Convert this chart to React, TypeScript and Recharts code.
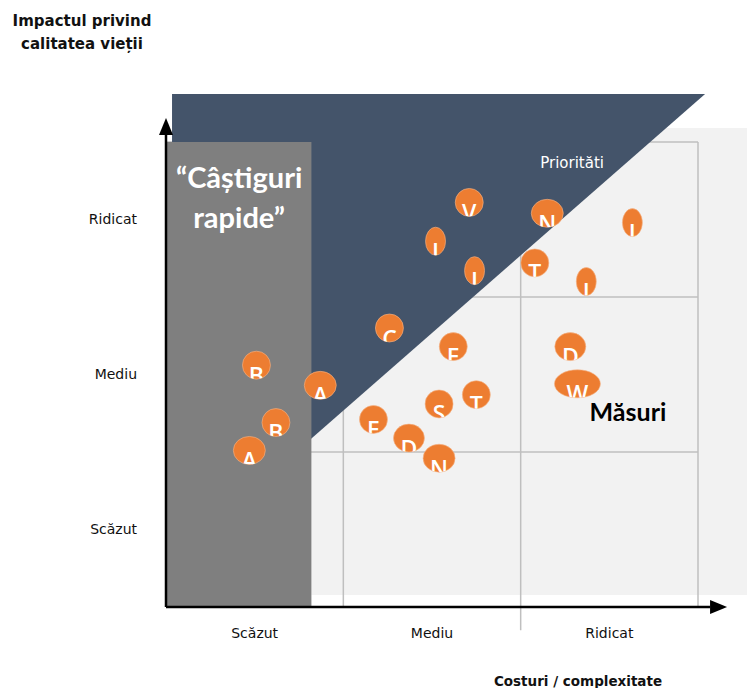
import React from 'react';
import { ScatterChart, Scatter, XAxis, YAxis, ReferenceArea, ReferenceLine, ReferenceDot } from 'recharts';

// axis categories (both axes use the same three levels)
const levelLabels = ['Scăzut', 'Mediu', 'Ridicat'];
const levelTicks = [0.5, 1.5, 2.5];

// measures: letter, cost / complexity (x) and impact on quality of life (y)
const measureLetters = ['V', 'N', 'I', 'I', 'I', 'T', 'I', 'C', 'E', 'B', 'A', 'T', 'S', 'B', 'E', 'D', 'A', 'N', 'D', 'W'];
const costValues = [1.71, 2.15, 1.52, 2.63, 1.74, 2.08, 2.37, 1.26, 1.62, 0.51, 0.87, 1.75, 1.54, 0.62, 1.17, 1.37, 0.47, 1.54, 2.28, 2.32];
const impactValues = [2.61, 2.54, 2.36, 2.48, 2.17, 2.22, 2.1, 1.8, 1.68, 1.56, 1.43, 1.37, 1.31, 1.19, 1.21, 1.09, 1.01, 0.96, 1.68, 1.44];

// zones (in axis units)
const gridCols = [1, 2, 3];
const gridColBottom = [0, -0.15, 0];
const gridRows = [1, 2, 3];

const data = measureLetters.map((letter, i) => ({
  id: i,
  letter,
  cost: costValues[i],
  impact: impactValues[i],
}));

const NAVY = '#44546A';
const ORANGE = '#ED7D31';
const GRID = '#BFBFBF';

const bubbleWidth: Record<string, number> = { I: 10, W: 23, N: 16, A: 16, D: 15.5 };

const Bubble = (props: any) => {
  const { cx, cy, payload } = props;
  const rx = bubbleWidth[payload.letter] ?? 14;
  const id = `bclip-${payload.id}`;
  return (
    <g>
      <defs>
        <clipPath id={id}>
          <ellipse cx={cx} cy={cy} rx={rx} ry={14} />
        </clipPath>
      </defs>
      <ellipse cx={cx} cy={cy} rx={rx} ry={14} fill={ORANGE} stroke="#f5b58a" strokeWidth={0.6} />
      <text x={cx} y={cy + 18.5} textAnchor="middle" fill="#fff" fontSize={23} fontWeight={600} fontFamily="Open Sans" clipPath={`url(#${id})`}>
        {payload.letter}
      </text>
    </g>
  );
};

const Arrow = (p: any) => {
  const { x1, y1, x2, y2 } = p;
  const ang = Math.atan2(y2 - y1, x2 - x1);
  const len = 17;
  const half = 7;
  const bx = x2 - len * Math.cos(ang);
  const by = y2 - len * Math.sin(ang);
  const px = -Math.sin(ang) * half;
  const py = Math.cos(ang) * half;
  return (
    <g>
      <line x1={x1} y1={y1} x2={bx} y2={by} stroke="#000" strokeWidth={2.5} />
      <polygon points={`${x2},${y2} ${bx + px},${by + py} ${bx - px},${by - py}`} fill="#000" />
    </g>
  );
};

const Triangle = (p: any) => (
  <polygon points={`${p.x},${p.y} ${p.x + p.width},${p.y} ${p.x},${p.y + p.height}`} fill={NAVY} />
);

const QuickWins = (p: any) => {
  const mid = p.x + p.width / 2;
  return (
    <g>
      <rect x={p.x} y={p.y} width={p.width} height={p.height} fill="#7F7F7F" />
      <text x={mid} y={p.y + 46} textAnchor="middle" fill="#fff" fontSize={29} fontWeight="bold" fontFamily="Lato">
        “Câștiguri
      </text>
      <text x={mid} y={p.y + 86} textAnchor="middle" fill="#fff" fontSize={29} fontWeight="bold" fontFamily="Lato">
        rapide”
      </text>
    </g>
  );
};

const textDot = (value: string, color: string, size: number, weight: string, family: string) => (p: any) => (
  <text x={p.cx} y={p.cy} textAnchor="middle" dominantBaseline="central" fill={color} fontSize={size} fontWeight={weight} fontFamily={family}>
    {value}
  </text>
);

export default function App() {
  return (
    <div style={{ position: 'absolute', left: 0, top: 0, width: 747, height: 688, background: '#fff', fontFamily: 'DejaVu Sans' }}>
      <div style={{ position: 'absolute', left: 0, top: 10, width: 164, textAlign: 'center', fontWeight: 'bold', fontSize: 15, lineHeight: '23px', color: '#111' }}>
        Impactul privind
        <br />
        calitatea vieții
      </div>
      <ScatterChart width={747} height={688} margin={{ top: 142, right: 49, bottom: 55, left: 106 }}>
        <XAxis
          type="number"
          dataKey="cost"
          domain={[0, 3]}
          allowDataOverflow
          ticks={levelTicks}
          tickFormatter={(v: number) => levelLabels[Math.floor(v)]}
          axisLine={false}
          tickLine={false}
          tickSize={6}
          tickMargin={15}
          height={26}
          tick={{ fill: '#111', fontSize: 14, fontFamily: 'DejaVu Sans' }}
        />
        <YAxis
          type="number"
          dataKey="impact"
          domain={[0, 3]}
          allowDataOverflow
          ticks={levelTicks}
          tickFormatter={(v: number) => levelLabels[Math.floor(v)]}
          axisLine={false}
          tickLine={false}
          tickSize={6}
          tickMargin={23}
          width={60}
          tick={{ fill: '#111', fontSize: 14, fontFamily: 'DejaVu Sans' }}
        />
        <ReferenceArea x1={0.82} x2={3.4} y1={0.077} y2={3.09} fill="#F2F2F2" fillOpacity={1} stroke="none" ifOverflow="visible" zIndex={1} />
        {gridCols.map((c, i) => (
          <ReferenceLine key={`c${c}`} segment={[{ x: c, y: gridColBottom[i] }, { x: c, y: 3 }]} stroke={GRID} strokeWidth={1.5} ifOverflow="visible" zIndex={2} />
        ))}
        {gridRows.map((r) => (
          <ReferenceLine key={`r${r}`} segment={[{ x: 0, y: r }, { x: 3, y: r }]} stroke={GRID} strokeWidth={1.5} ifOverflow="visible" zIndex={2} />
        ))}
        <ReferenceArea x1={0.034} x2={3.04} y1={0.3} y2={3.31} shape={Triangle} ifOverflow="visible" zIndex={3} />
        <ReferenceArea x1={0.005} x2={0.82} y1={0} y2={3} shape={QuickWins} ifOverflow="visible" zIndex={4} />
        <ReferenceDot x={2.29} y={2.865} r={1} shape={textDot('Priorităti', '#fff', 15, 'normal', 'DejaVu Sans')} ifOverflow="visible" zIndex={5} />
        <ReferenceDot x={2.605} y={1.265} r={1} shape={textDot('Măsuri', '#000', 25, 'bold', 'Lato')} ifOverflow="visible" zIndex={5} />
        <ReferenceLine segment={[{ x: 0, y: 0 }, { x: 0, y: 3.155 }]} shape={Arrow} ifOverflow="visible" zIndex={6} />
        <ReferenceLine segment={[{ x: 0, y: 0 }, { x: 3.164, y: 0 }]} shape={Arrow} ifOverflow="visible" zIndex={6} />
        <Scatter data={data} shape={Bubble} isAnimationActive={false} zIndex={700} />
      </ScatterChart>
      <div style={{ position: 'absolute', left: 478, top: 670, width: 200, textAlign: 'center', fontWeight: 'bold', fontSize: 13.5, lineHeight: '23px', color: '#111' }}>
        Costuri / complexitate
      </div>
    </div>
  );
}
